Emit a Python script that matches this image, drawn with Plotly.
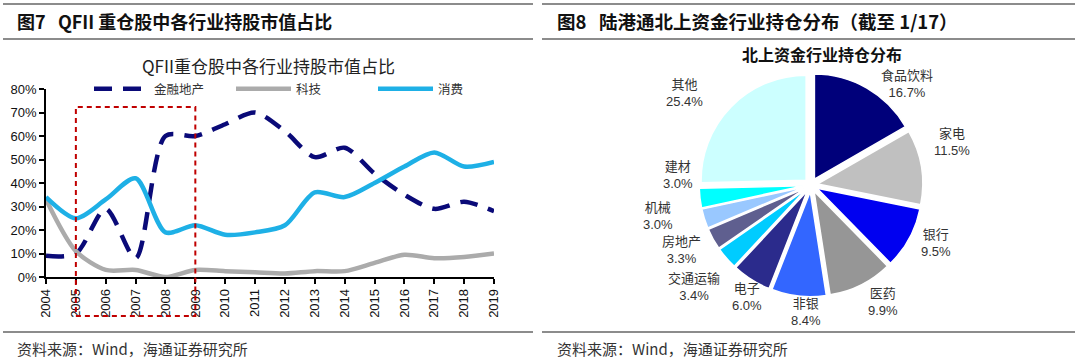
import math
import plotly.graph_objects as go

W, H = 1080, 358

# ---------------- data ----------------
years = list(range(2004, 2020))
fin_realestate = [9, 10, 29, 8, 60, 60, 65, 70, 62, 51, 55, 44, 35, 29, 32, 28]
tech = [33, 11, 3, 3, 0, 3, 2.5, 2, 1.5, 2.5, 2.5, 6, 9.5, 8, 8.5, 10]
consumer = [34, 25, 33, 42, 19, 22, 18, 19, 22, 36, 34, 40, 47, 53, 47, 49]
y_ticks = [0, 10, 20, 30, 40, 50, 60, 70, 80]
box_years = [2005, 2009]

pie_labels = ["食品饮料", "家电", "银行", "医药", "非银", "电子", "交通运输",
              "房地产", "机械", "建材", "其他"]
pie_values = [16.7, 11.5, 9.5, 9.9, 8.4, 6.0, 3.4, 3.3, 3.0, 3.0, 25.4]
pie_colors = ["#00007A", "#C0C0C0", "#0000F0", "#969696", "#3366FF", "#2B2B8C",
              "#00CCFF", "#5F5F8F", "#99C8FF", "#00FFFF", "#CCFFFF"]

# layout of the pie data labels: (angle in degrees clockwise from 12 o'clock, distance px)
label_polar = [(44.7, 135), (74.8, 145), (117, 139), (150, 141), (182.6, 132), (209, 134),
               (227.8, 159), (241.7, 148), (256.8, 158), (272, 134), (304.4, 154)]


def px(x):
    return x / W


def py(y):
    return 1 - y / H


FONT = "Liberation Sans, Noto Sans CJK SC, sans-serif"
CJK = "Noto Sans CJK SC, sans-serif"

fig = go.Figure()

fig.add_trace(go.Scatter(
    x=years, y=fin_realestate, name="金融地产", mode="lines",
    line=dict(color="#0A0A78", width=4.5, dash="18px,11px", shape="spline", smoothing=0.8),
    xaxis="x", yaxis="y"))
fig.add_trace(go.Scatter(
    x=years, y=tech, name="科技", mode="lines",
    line=dict(color="#ABABAB", width=4.5, shape="spline", smoothing=0.8),
    xaxis="x", yaxis="y"))
fig.add_trace(go.Scatter(
    x=years, y=consumer, name="消费", mode="lines",
    line=dict(color="#1EB0E6", width=4.5, shape="spline", smoothing=0.8),
    xaxis="x", yaxis="y"))

# ---------------- pie ----------------
cx, cy, r, pull = 811, 185, 105, 0.065
half = r * (1 + pull)
fig.add_trace(go.Pie(
    labels=pie_labels, values=pie_values, sort=False, direction="clockwise",
    rotation=0, pull=pull, showlegend=False, textinfo="none",
    marker=dict(colors=pie_colors, line=dict(color="white", width=1.5)),
    hoverinfo="label+value",
    domain=dict(x=[px(cx - half), px(cx + half)], y=[py(cy + half), py(cy - half)])))

LABEL_FS = 13
lab_cx, lab_cy = cx + 1, cy - 5
label_ann = []
for lab, val, (ang, dist) in zip(pie_labels, pie_values, label_polar):
    t = math.radians(ang)
    lx = lab_cx + dist * math.sin(t)
    ly = lab_cy - dist * math.cos(t)
    label_ann.append(dict(text=f"{lab}<br>{val:.1f}%", x=px(lx), y=py(ly), xanchor="center",
                          yanchor="middle", font=dict(size=LABEL_FS, family=FONT, color="#333333")))

axis_common = dict(showgrid=False, zeroline=False, showline=True, linecolor="black",
                   linewidth=1.5, ticks="outside", tickcolor="black", tickwidth=1.5,
                   ticklen=5, tickfont=dict(size=13, family=FONT, color="#111111"),
                   automargin=False)

fig.update_layout(
    width=W, height=H, margin=dict(l=0, r=0, t=0, b=0, pad=0, autoexpand=False),
    paper_bgcolor="white", plot_bgcolor="white",
    xaxis=dict(domain=[px(46), px(494)], range=[2004, 2019], tickmode="array",
               tickvals=years, ticktext=[str(y) for y in years], tickangle=-90,
               anchor="y", **axis_common),
    yaxis=dict(domain=[py(277), py(89)], range=[0, 80], tickmode="array",
               tickvals=y_ticks, ticktext=[f"{v}%" for v in y_ticks],
               anchor="x", **axis_common),
    legend=dict(orientation="h", x=px(89), y=py(74), xanchor="left", yanchor="top",
                font=dict(size=12.5, family=CJK, color="#333333"),
                itemwidth=55, entrywidth=72, entrywidthmode="pixels",
                bgcolor="rgba(0,0,0,0)", tracegroupgap=0),
    showlegend=True,
)

shapes = []
# header and footer rules
for x0, x1 in [(3, 533), (542, 1075)]:
    for yy in [4, 39, 332]:
        shapes.append(dict(type="line", xref="paper", yref="paper",
                           x0=px(x0), x1=px(x1), y0=py(yy), y1=py(yy),
                           line=dict(color="#666666", width=1.3)))
# red dashed highlight box
shapes.append(dict(type="rect", xref="x", yref="paper", x0=box_years[0], x1=box_years[1],
                   y0=py(316), y1=py(107), line=dict(color="#C00000", width=2, dash="5px,4px"),
                   fillcolor="rgba(0,0,0,0)", layer="above"))
fig.update_layout(shapes=shapes)

annotations = [
    dict(text="<b>图7   QFII 重仓股中各行业持股市值占比</b>", x=px(15), y=py(21),
         xanchor="left", yanchor="middle", font=dict(size=18, family=CJK, color="#111111")),
    dict(text="<b>图8   陆港通北上资金行业持仓分布（截至 1/17）</b>", x=px(555), y=py(21),
         xanchor="left", yanchor="middle", font=dict(size=18.5, family=CJK, color="#111111")),
    dict(text="QFII重仓股中各行业持股市值占比", x=px(268), y=py(66), xanchor="center",
         yanchor="middle", font=dict(size=17, family=CJK, color="#222222")),
    dict(text="<b>北上资金行业持仓分布</b>", x=px(822), y=py(54), xanchor="center",
         yanchor="middle", font=dict(size=16, family=CJK, color="#111111")),
    dict(text="资料来源：Wind，海通证券研究所", x=px(15), y=py(348), xanchor="left",
         yanchor="middle", font=dict(size=15, family=CJK, color="#333333")),
    dict(text="资料来源：Wind，海通证券研究所", x=px(555), y=py(348), xanchor="left",
         yanchor="middle", font=dict(size=15, family=CJK, color="#333333")),
] + label_ann
for a in annotations:
    a.update(xref="paper", yref="paper", showarrow=False)
fig.update_layout(annotations=annotations)

fig.write_html("out.html", config={"displayModeBar": False},
               post_script="document.body.style.margin='0';document.body.style.padding='0';")
